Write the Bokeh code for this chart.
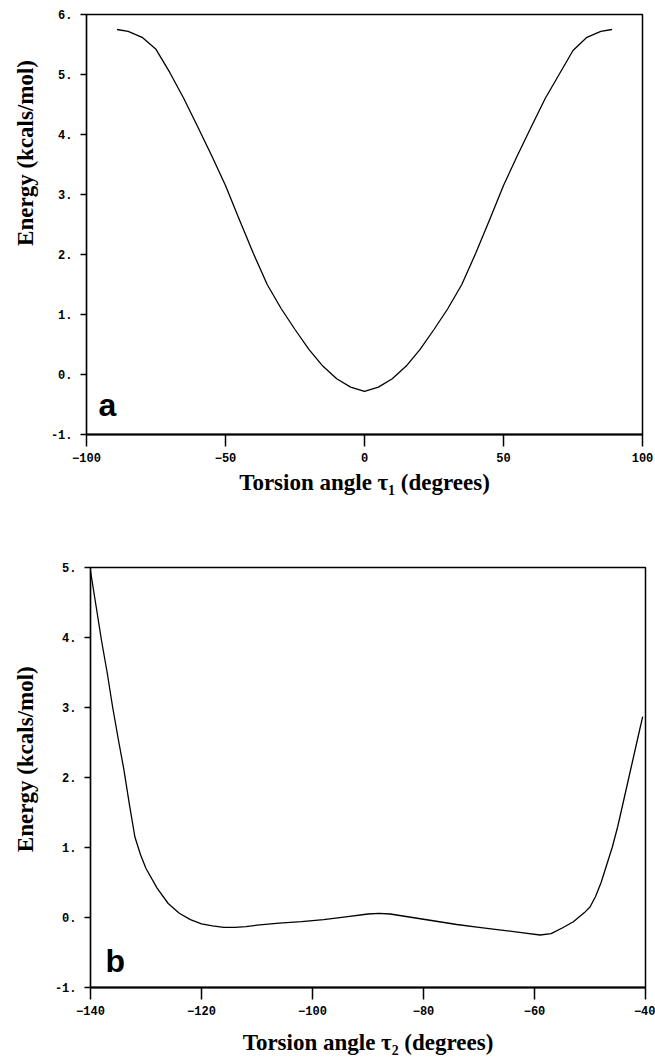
from bokeh.plotting import figure
from bokeh.models import Label, FixedTicker, Range1d, CustomJSTickFormatter
from bokeh.layouts import column, row
from bokeh.embed import file_html
from bokeh.resources import INLINE

# ---------------- data ----------------
tau1 = [-89, -85, -80, -75, -70, -65, -60, -55, -50, -45, -40, -35, -30, -25, -20, -15, -10, -5, 0,
        5, 10, 15, 20, 25, 30, 35, 40, 45, 50, 55, 60, 65, 70, 75, 80, 85, 89]
energy1 = [5.75, 5.72, 5.62, 5.42, 5.03, 4.6, 4.13, 3.65, 3.15, 2.58, 2.02, 1.5, 1.1, 0.75, 0.42, 0.14, -0.07, -0.21, -0.28,
           -0.21, -0.07, 0.14, 0.42, 0.75, 1.1, 1.5, 2.02, 2.58, 3.15, 3.65, 4.13, 4.6, 5.0, 5.4, 5.62, 5.72, 5.75]

tau2 = [-140, -139, -138, -137, -136, -135, -134, -133, -132, -131, -130, -128, -126, -124, -122, -120,
        -118, -116, -114, -112, -110, -106, -102, -98, -94, -90, -88, -86, -82, -78, -74, -70, -66, -62,
        -59, -57, -55, -53, -51, -50, -49, -48, -47, -46, -45, -44, -43, -42, -41, -40.5]
energy2 = [4.95, 4.45, 3.95, 3.5, 3.0, 2.55, 2.12, 1.62, 1.15, 0.9, 0.7, 0.42, 0.2, 0.06, -0.03, -0.09,
           -0.12, -0.14, -0.14, -0.13, -0.11, -0.08, -0.06, -0.03, 0.01, 0.05, 0.06, 0.05, 0.0, -0.05, -0.1, -0.14, -0.18, -0.22,
           -0.25, -0.23, -0.15, -0.06, 0.07, 0.15, 0.3, 0.5, 0.75, 1.0, 1.3, 1.65, 2.0, 2.35, 2.7, 2.87]

x1_ticks = [-100, -50, 0, 50, 100]
y1_ticks = [-1, 0, 1, 2, 3, 4, 5, 6]
x2_ticks = [-140, -120, -100, -80, -60, -40]
y2_ticks = [-1, 0, 1, 2, 3, 4, 5]

y_title = "Energy (kcals/mol)"
x1_title = "Torsion angle \u03c4\u2081 (degrees)"
x2_title = "Torsion angle \u03c4\u2082 (degrees)"
panel_tags = ["a", "b"]

TICK_FONT = "Liberation Mono"
TITLE_FONT = "Liberation Serif"
STRIP_W = 46


def title_strip(height, label_y):
    """Narrow blank figure that carries the rotated y title, left of a panel."""
    s = figure(width=STRIP_W, height=height, x_range=Range1d(0, STRIP_W), y_range=Range1d(0, height),
               output_backend="svg", toolbar_location=None,
               x_axis_location=None, y_axis_location=None, min_border=0)
    s.outline_line_color = None
    s.background_fill_color = "white"
    s.border_fill_color = "white"
    s.xgrid.visible = False
    s.ygrid.visible = False
    s.add_layout(Label(x=25, y=label_y, text=y_title, angle=90, angle_units="deg",
                       text_align="center", text_baseline="middle", text_font=TITLE_FONT,
                       text_font_style="bold", text_font_size="23px", text_color="black"))
    return s


def make_panel(xs, ys, xr, yr, xt, yt, width, height, bl, br, bt, bb,
               xtitle, xtitle_standoff, tag, tag_pos):
    p = figure(width=width, height=height, x_range=Range1d(*xr), y_range=Range1d(*yr),
               output_backend="svg", toolbar_location=None,
               min_border_left=bl, min_border_right=br, min_border_top=bt, min_border_bottom=bb)
    p.background_fill_color = "white"
    p.border_fill_color = "white"
    p.outline_line_color = "black"
    p.outline_line_width = 1.5
    p.xgrid.visible = False
    p.ygrid.visible = False

    p.line(xs, ys, line_color="black", line_width=1.3)

    xa = p.xaxis[0]
    xa.ticker = FixedTicker(ticks=xt)
    xa.axis_line_width = 2
    xa.major_tick_in = 0
    xa.major_tick_out = 12
    xa.major_tick_line_width = 1.5
    xa.minor_tick_in = 0
    xa.minor_tick_out = 0
    xa.major_label_standoff = 6
    xa.major_label_text_font = TICK_FONT
    xa.major_label_text_font_size = "12px"
    xa.major_label_text_font_style = "bold"
    xa.major_label_text_color = "black"
    xa.axis_label = xtitle
    xa.axis_label_standoff = xtitle_standoff
    xa.axis_label_text_font = TITLE_FONT
    xa.axis_label_text_font_style = "bold"
    xa.axis_label_text_font_size = "23px"
    xa.axis_label_text_color = "black"

    ya = p.yaxis[0]
    ya.ticker = FixedTicker(ticks=yt)
    ya.formatter = CustomJSTickFormatter(code="return tick.toFixed(0) + '.'")
    ya.axis_line_width = 1.2
    ya.major_tick_in = 0
    ya.major_tick_out = 6
    ya.major_tick_line_width = 1.5
    ya.minor_tick_in = 0
    ya.minor_tick_out = 0
    ya.major_label_standoff = 8
    ya.major_label_text_font = TICK_FONT
    ya.major_label_text_font_size = "12px"
    ya.major_label_text_font_style = "bold"
    ya.major_label_text_color = "black"

    p.add_layout(Label(x=tag_pos[0], y=tag_pos[1], text=tag, text_align="left",
                       text_baseline="alphabetic", text_font="Liberation Sans",
                       text_font_style="bold", text_font_size="32px", text_color="black"))
    return p


H1, H2 = 540, 517
W = 655 - STRIP_W
p1 = make_panel(tau1, energy1, (-100, 100), (-1, 6), x1_ticks, y1_ticks,
                W, H1, 86 - STRIP_W, 13, 14, 106,
                x1_title, 5, panel_tags[0], (-95.7, -0.5))
p2 = make_panel(tau2, energy2, (-140, -40), (-1, 5), x2_ticks, y2_ticks,
                W, H2, 90 - STRIP_W, 10, 27, 70,
                x2_title, 12, panel_tags[1], (-137.3, -0.62))

top = row(title_strip(H1, H1 - 178), p1, spacing=0)
bottom = row(title_strip(H2, H2 - (776 - H1)), p2, spacing=0)
layout = column(top, bottom, spacing=0)
open("out.html", "w").write(file_html(layout, INLINE))
